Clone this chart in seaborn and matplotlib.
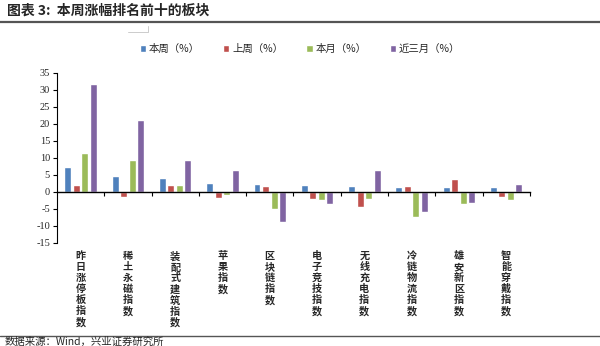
import matplotlib
matplotlib.use("Agg")
import matplotlib.pyplot as plt
import matplotlib.transforms as mtransforms
from matplotlib.lines import Line2D
import seaborn as sns
import pandas as pd

categories = ["昨日涨停板指数", "稀土永磁指数", "装配式建筑指数", "苹果指数", "区块链指数",
              "电子竞技指数", "无线充电指数", "冷链物流指数", "雄安新区指数", "智能穿戴指数"]
series_names = ["本周（%）", "上周（%）", "本月（%）", "近三月（%）"]
this_week = [7.4, 4.5, 3.9, 2.6, 2.2, 1.9, 1.7, 1.4, 1.3, 1.3]
last_week = [1.9, -1.6, 1.9, -1.8, 1.6, -2.2, -4.4, 1.6, 3.6, -1.6]
this_month = [11.4, 9.4, 1.9, -0.9, -5.1, -2.4, -2.2, -7.5, -3.6, -2.4]
three_months = [31.8, 21.0, 9.4, 6.4, -9.0, -3.7, 6.3, -6.1, -3.2, 2.4]
colors = ["#4F81BD", "#C0504D", "#9BBB59", "#8064A2"]
yticks = [-15, -10, -5, 0, 5, 10, 15, 20, 25, 30, 35]

sns.set_style("white")
plt.rcParams['font.family'] = ['Noto Sans CJK SC', 'DejaVu Sans']

rows = []
for name, vals in zip(series_names, [this_week, last_week, this_month, three_months]):
    for c, v in zip(categories, vals):
        rows.append({"cat": c, "series": name, "val": v})
df = pd.DataFrame(rows)

fig = plt.figure(figsize=(6, 3.46), dpi=100)
ax = fig.add_axes([0.095, 0.2986, 0.788, 0.4914])
sns.barplot(data=df, x="cat", y="val", hue="series", hue_order=series_names,
            order=categories, palette=colors, width=0.72, gap=0.18, ax=ax,
            errorbar=None, saturation=1)

ax.set_ylim(-15, 35)
ax.set_yticks(yticks)
ax.set_yticklabels([str(t) for t in yticks], family="Liberation Serif", fontsize=7.5)
ax.set_xlim(-0.5, len(categories) - 0.5)
ax.set_xlabel("")
ax.set_ylabel("")
for s in ["top", "right"]:
    ax.spines[s].set_visible(False)
ax.spines["left"].set_color("black")
ax.spines["left"].set_linewidth(0.8)
ax.spines["bottom"].set_position(("data", 0))
ax.spines["bottom"].set_color("black")
ax.spines["bottom"].set_linewidth(1.0)
ax.set_xticks([i + 0.5 for i in range(len(categories))])
ax.set_xticklabels([])
ax.tick_params(axis="x", direction="out", length=3, width=0.8, color="black", bottom=True)
ax.tick_params(axis="y", direction="out", length=3, width=0.8, color="black", left=True, pad=2)

trans = mtransforms.blended_transform_factory(ax.transData, ax.transAxes)
for i, c in enumerate(categories):
    ax.text(i, -0.05, "\n".join(c), transform=trans, ha="center", va="top",
            fontsize=7.3, linespacing=1.12, fontweight="bold")

leg = ax.legend(loc="center", bbox_to_anchor=(0.514, 1.14), ncol=4, frameon=False,
                fontsize=7.5, handlelength=0.6, handleheight=0.6, handletextpad=0.3,
                columnspacing=2.2)

fig.text(0.012, 0.970, "图表 3:  本周涨幅排名前十的板块", fontsize=10, fontweight="bold",
         ha="left", va="center")
fig.add_artist(Line2D([0, 1], [0.935, 0.935], transform=fig.transFigure, color="#555555", lw=1.6))
fig.add_artist(Line2D([0.213, 0.247, 0.247], [0.908, 0.908, 0.925], transform=fig.transFigure,
                      color="#CCCCCC", lw=0.7))
fig.add_artist(Line2D([0, 1], [0.030, 0.030], transform=fig.transFigure, color="#555555", lw=1.0))
fig.text(0.008, 0.012, "数据来源：Wind，兴业证券研究所", fontsize=7.5, ha="left", va="center")

fig.savefig("out.png", dpi=100, facecolor="white")
